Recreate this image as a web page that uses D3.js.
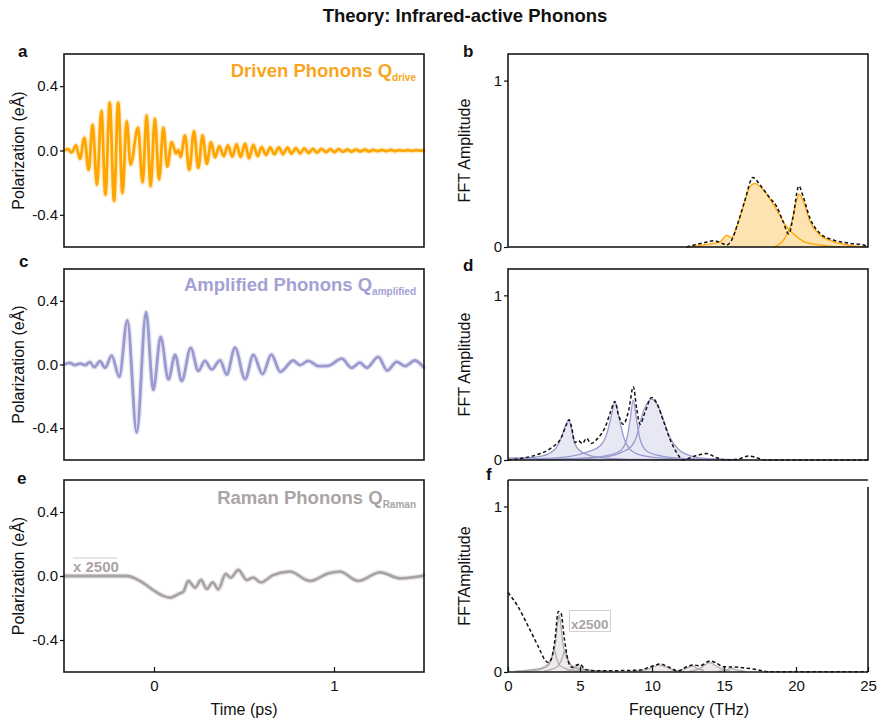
<!DOCTYPE html>
<html><head><meta charset="utf-8">
<script src="https://cdn.jsdelivr.net/npm/d3@7"></script>
<style>body{margin:0;background:#fff}svg{display:block}</style>
</head><body>
<svg id="chart" width="877" height="724"></svg>
<script>
// ---------- data ----------
const chartTitle = "Theory: Infrared-active Phonons";
const timeDomain = [-0.5, 1.5];
const freqDomain = [0, 25];
const polDomain = [-0.6, 0.6];
const fftDomain = [0, 1.16];
const polTicks = [-0.4, 0, 0.4];
const polTickLabels = ["-0.4", "0.0", "0.4"];
const fftTicks = [0, 1];
const fftTickLabels = ["0", "1"];
const timeTicks = [0, 1];
const timeTickLabels = ["0", "1"];
const freqTicks = [0, 5, 10, 15, 20, 25];
const freqTickLabels = ["0", "5", "10", "15", "20", "25"];

// panel a: driven phonons (time in ps, polarization in eÅ)
const driveT = [-0.5,-0.478,-0.458,-0.433,-0.411,-0.387,-0.363,-0.341,-0.317,-0.292,-0.270,-0.246,-0.222,-0.199,-0.175,-0.152,-0.130,-0.089,-0.063,-0.041,-0.019,0.005,0.028,0.052,0.074,0.098,0.122,0.135,0.148,0.172,0.196,0.222,0.246,0.270,0.293,0.317,0.339,0.363,0.387,0.411,0.435,0.459,0.481,0.506,0.528,0.552,0.576,0.598,0.622,0.646,0.668,0.694,0.716,0.742,0.764,0.788,0.812,0.835,0.859,0.883,0.905,0.931,0.955,0.979,1.001,1.025,1.050,1.075,1.097,1.121,1.146,1.172,1.194,1.218,1.242,1.266,1.290,1.316,1.338,1.362,1.386,1.408,1.433,1.457,1.481,1.5];
const driveP = [0,0.008,-0.012,0.031,-0.052,0.079,-0.121,0.160,-0.213,0.246,-0.275,0.298,-0.313,0.298,-0.265,0.183,-0.088,0.142,-0.198,0.219,-0.223,0.198,-0.181,0.142,-0.100,0.052,-0.017,0.004,-0.040,0.094,-0.121,0.121,-0.108,0.094,-0.083,0.052,-0.042,0.027,-0.035,0.031,-0.038,0.038,-0.040,0.042,-0.048,0.035,-0.035,0.021,-0.027,0.019,-0.023,0.019,-0.023,0.017,-0.019,0.015,-0.017,0.013,-0.015,0.010,-0.013,0.010,-0.010,0.008,-0.010,0.008,-0.008,0.006,-0.008,0.006,-0.006,0.006,-0.006,0.004,-0.004,0.004,-0.004,0.004,-0.004,0.002,-0.002,0.002,-0.002,0.002,-0.001,0];

// panel c: amplified phonons
const ampT = [-0.5,-0.467,-0.439,-0.411,-0.383,-0.356,-0.332,-0.300,-0.272,-0.235,-0.193,-0.148,-0.096,-0.044,-0.004,0.037,0.080,0.117,0.154,0.204,0.246,0.283,0.320,0.367,0.404,0.450,0.506,0.552,0.603,0.652,0.702,0.774,0.811,0.857,0.913,0.968,1.043,1.098,1.144,1.181,1.246,1.296,1.348,1.394,1.450,1.5];
const ampP = [0,0.010,-0.004,0.006,-0.004,0.015,-0.017,0.021,-0.021,0.056,-0.077,0.277,-0.427,0.329,-0.160,0.173,-0.094,0.060,-0.104,0.104,-0.040,0.023,-0.031,0.026,-0.063,0.106,-0.092,0.060,-0.060,0.062,-0.046,0.025,-0.004,0.023,-0.010,-0.008,0.0375,-0.021,0.012,-0.021,0.048,-0.038,0.017,-0.010,0.025,-0.021];

// panel e: Raman phonons (x 2500)
const ramanT = [-0.5,-0.152,-0.078,-0.004,0.052,0.089,0.144,0.163,0.191,0.228,0.261,0.293,0.326,0.357,0.398,0.426,0.469,0.515,0.552,0.593,0.663,0.756,0.867,0.969,1.033,1.135,1.256,1.367,1.5];
const ramanP = [0,0,-0.031,-0.088,-0.125,-0.135,-0.108,-0.098,-0.031,-0.073,-0.025,-0.081,-0.040,-0.083,0.0125,-0.010,0.0375,-0.025,-0.010,-0.040,0.006,0.027,-0.031,0.017,0.027,-0.031,0.023,-0.015,0.002];

// panel b: FFT of driven phonons [THz, amplitude]
const driveModeA = [[12.4,0],[13.8,0.016],[14.72,0.032],[15.19,0.070],[15.53,0.056],[15.88,0.122],[16.34,0.243],[16.81,0.364],[17.15,0.382],[17.5,0.364],[18.08,0.303],[18.66,0.223],[19.35,0.122],[20.05,0.062],[20.74,0.026],[21.9,0.010],[23.06,0]];
const driveModeB = [[18.5,0],[19.21,0.052],[19.68,0.143],[20.02,0.273],[20.23,0.317],[20.56,0.263],[20.97,0.153],[21.67,0.072],[22.59,0.032],[23.75,0.010],[24.9,0]];
const driveTotal = [[12.4,0],[13.6,0.026],[14.3,0.038],[14.86,0.022],[15.19,0.012],[15.53,0.042],[16.0,0.153],[16.46,0.283],[17.0,0.418],[17.5,0.373],[18.2,0.293],[18.66,0.243],[19.1,0.153],[19.5,0.078],[19.8,0.183],[20.2,0.367],[20.5,0.303],[20.97,0.173],[21.67,0.082],[22.59,0.042],[23.75,0.022],[24.68,0.012],[25,0.002]];

// panel d: FFT of amplified phonons
const ampMode1 = [[0,0.012],[0.95,0.012],[2.34,0.024],[3.26,0.065],[3.7,0.136],[4.0,0.21],[4.19,0.242],[4.38,0.2],[4.54,0.126],[4.88,0.065],[5.58,0.030],[6.74,0.012],[9.05,0.004],[13,0.002]];
const ampMode2 = [[0,0.006],[2.1,0.008],[4.42,0.024],[5.58,0.051],[6.39,0.085],[6.85,0.156],[7.15,0.258],[7.43,0.35],[7.71,0.258],[8.01,0.146],[8.59,0.055],[9.51,0.024],[11.36,0.008],[14,0.002]];
const ampMode3 = [[2,0.002],[4.42,0.008],[6.67,0.024],[7.78,0.055],[8.24,0.126],[8.47,0.238],[8.70,0.365],[8.94,0.238],[9.17,0.126],[9.63,0.055],[10.67,0.024],[12.5,0.008],[15,0.002]];
const ampMode4 = [[2,0.002],[4.42,0.006],[6.67,0.018],[7.85,0.045],[8.59,0.085],[8.94,0.146],[9.17,0.228],[9.51,0.319],[9.98,0.37],[10.44,0.323],[10.86,0.228],[11.25,0.136],[11.83,0.065],[12.76,0.024],[13.68,0.010],[16,0.002]];
const ampTotal = [[0,0],[0.95,0.01],[2.1,0.035],[3.03,0.075],[3.7,0.136],[4.07,0.217],[4.24,0.245],[4.42,0.197],[4.65,0.106],[4.88,0.118],[5.16,0.10],[5.46,0.132],[5.76,0.10],[6.27,0.136],[6.74,0.197],[7.15,0.299],[7.43,0.356],[7.66,0.278],[8.01,0.217],[8.4,0.309],[8.70,0.445],[8.94,0.309],[9.17,0.217],[9.51,0.289],[9.98,0.38],[10.3,0.35],[10.79,0.238],[11.25,0.126],[11.71,0.045],[12.18,0],[12.76,0.018],[13.45,0.035],[13.8,0.039],[14.49,0.014],[15.19,0],[16.11,0.008],[16.69,0.024],[17.27,0.014],[17.85,0],[25,0]];

// panel f: FFT of Raman phonons
const ramanMode1 = [[1.0,0.004],[2.2,0.015],[2.8,0.04],[3.05,0.09],[3.2,0.14],[3.35,0.09],[3.6,0.04],[4.2,0.015],[5.5,0.004]];
const ramanMode2 = [[0.5,0.005],[1.5,0.012],[2.5,0.03],[3.0,0.08],[3.3,0.18],[3.45,0.3],[3.55,0.345],[3.65,0.3],[3.8,0.18],[4.1,0.08],[4.6,0.03],[5.6,0.012],[7,0.005]];
const ramanMode3 = [[2.5,0.005],[3.4,0.03],[3.75,0.08],[3.95,0.13],[4.15,0.08],[4.5,0.03],[5.5,0.005]];
const ramanMode4 = [[4.0,0.004],[4.5,0.015],[4.75,0.035],[4.9,0.042],[5.05,0.035],[5.3,0.015],[5.8,0.004]];
const ramanMode5 = [[8.5,0.004],[9.6,0.015],[10.2,0.035],[10.5,0.042],[10.8,0.035],[11.4,0.015],[12.2,0.004]];
const ramanMode6 = [[11.6,0.004],[12.3,0.02],[12.8,0.035],[13.2,0.02],[13.6,0.008]];
const ramanMode7 = [[12.6,0.004],[13.4,0.025],[13.8,0.05],[14.0,0.058],[14.2,0.05],[14.7,0.025],[15.4,0.008]];
const ramanMode8 = [[14.6,0.004],[15.2,0.015],[15.5,0.022],[15.8,0.015],[16.5,0.004]];
const ramanTotal = [[0,0.48],[0.69,0.396],[1.41,0.275],[2.1,0.154],[2.57,0.073],[2.8,0.057],[3.03,0.083],[3.26,0.194],[3.49,0.366],[3.68,0.356],[3.91,0.204],[4.19,0.063],[4.42,0.028],[4.77,0.042],[5.0,0.048],[5.35,0.016],[6.04,0.008],[7.31,0.008],[9.17,0.012],[10.09,0.038],[10.56,0.048],[11.02,0.036],[11.83,0.006],[12.41,0.032],[12.87,0.042],[13.33,0.038],[14.03,0.067],[14.49,0.053],[14.95,0.032],[15.65,0.030],[17.04,0.018],[18.1,0.002],[25,0.002]];

// ---------- drawing ----------
const FONT = "'Liberation Sans', Arial, Helvetica, sans-serif";
const svg = d3.select("#chart").style("font-family", FONT);
const rows = [{top:54, bot:247}, {top:269, bot:460}, {top:480, bot:672}];
const xT = d3.scaleLinear().domain(timeDomain).range([64, 424]);
const xF = d3.scaleLinear().domain(freqDomain).range([508, 868]);

const COL = {
  orange: "#FFA500", orangeFill: "#FDE3B2", orangeText: "#F8A51C",
  purple: "#9A9AD0", purpleFill: "#E8E8F4", purpleText: "#A2A2D5",
  gray: "#AAA3A3", grayFill: "#EEEAEA", grayText: "#ABA4A4"
};

svg.append("text").attr("x", 465).attr("y", 22).attr("text-anchor", "middle")
  .attr("font-size", 18.5).attr("font-weight", "bold").attr("fill", "#111").text(chartTitle);

function yAxis(g, scale, ticks, labels) {
  const ax = d3.axisLeft(scale).tickValues(ticks).tickSizeInner(4).tickSizeOuter(0).tickPadding(2)
    .tickFormat((d, i) => labels[i]);
  g.call(ax);
  g.select(".domain").remove();
  g.selectAll("text").attr("font-size", 15).attr("fill", "#111").style("font-family", FONT);
  g.selectAll("line").attr("stroke", "#111").attr("stroke-width", 1.2);
}
function xAxis(g, scale, ticks, labels) {
  const ax = d3.axisBottom(scale).tickValues(ticks).tickSizeInner(-5).tickSizeOuter(0).tickPadding(8)
    .tickFormat((d, i) => labels[i]);
  g.call(ax);
  g.select(".domain").remove();
  g.selectAll("text").attr("font-size", 15).attr("fill", "#111").style("font-family", FONT);
  g.selectAll("line").attr("stroke", "#111").attr("stroke-width", 1.2);
}
function frame(x0, x1, r) {
  svg.append("rect").attr("x", x0).attr("y", r.top).attr("width", x1 - x0).attr("height", r.bot - r.top)
    .attr("fill", "none").attr("stroke", "#1a1a1a").attr("stroke-width", 1.6);
}
function letter(t, x, y) {
  svg.append("text").attr("x", x).attr("y", y).attr("font-size", 17).attr("font-weight", "bold")
    .attr("fill", "#111").text(t);
}
function yTitle(t, x, r) {
  const cy = (r.top + r.bot) / 2;
  svg.append("text").attr("transform", `translate(${x},${cy}) rotate(-90)`).attr("text-anchor", "middle")
    .attr("font-size", 16).attr("fill", "#111").text(t);
}
function panelTitle(main, sub, color, y) {
  const t = svg.append("text").attr("x", 416).attr("y", y).attr("text-anchor", "end")
    .attr("font-size", 18.5).attr("font-weight", "bold").attr("fill", color);
  t.append("tspan").text(main);
  t.append("tspan").attr("font-size", 10).attr("dy", 4).text(sub);
}

function timePanel(r, T, P, color) {
  const y = d3.scaleLinear().domain(polDomain).range([r.bot, r.top]);
  const data = T.map((t, i) => [t, P[i]]);
  const line = d3.line().x(d => xT(d[0])).y(d => y(d[1])).curve(d3.curveMonotoneX);
  svg.append("path").attr("d", line(data)).attr("fill", "none").attr("stroke", color)
    .attr("stroke-width", 5.5).attr("stroke-opacity", 0.22).attr("stroke-linejoin", "round");
  svg.append("path").attr("d", line(data)).attr("fill", "none").attr("stroke", color)
    .attr("stroke-width", 2.8).attr("stroke-linejoin", "round").attr("stroke-linecap", "round");
  frame(64, 424, r);
  yAxis(svg.append("g").attr("transform", "translate(64,0)"), y, polTicks, polTickLabels);
  yTitle("Polarization (eÅ)", 24, r);
  return y;
}

function freqPanel(r, modes, total, stroke, fill, drawFrame) {
  const y = d3.scaleLinear().domain(fftDomain).range([r.bot, r.top]);
  const area = d3.area().x(d => xF(d[0])).y0(y(0)).y1(d => y(d[1])).curve(d3.curveMonotoneX);
  const line = d3.line().x(d => xF(d[0])).y(d => y(d[1])).curve(d3.curveMonotoneX);
  modes.forEach(m => svg.append("path").attr("d", area(m)).attr("fill", fill).attr("stroke", "none"));
  modes.forEach(m => svg.append("path").attr("d", line(m)).attr("fill", "none").attr("stroke", stroke).attr("stroke-width", 1.3));
  svg.append("path").attr("d", line(total)).attr("fill", "none").attr("stroke", "#111")
    .attr("stroke-width", 1.5).attr("stroke-dasharray", "3.5,2.5");
  if (drawFrame) frame(508, 868, r);
  yAxis(svg.append("g").attr("transform", "translate(508,0)"), y, fftTicks, fftTickLabels);
  return y;
}

// Row 1
timePanel(rows[0], driveT, driveP, COL.orange);
panelTitle("Driven Phonons Q", "drive", COL.orangeText, 77);
letter("a", 18, 57);
freqPanel(rows[0], [driveModeA, driveModeB], driveTotal, COL.orange, COL.orangeFill, true);
yTitle("FFT Amplitude", 470, rows[0]);
letter("b", 463, 57);

// Row 2
timePanel(rows[1], ampT, ampP, COL.purple);
panelTitle("Amplified Phonons Q", "amplified", COL.purpleText, 291);
letter("c", 19, 267);
freqPanel(rows[1], [ampMode1, ampMode2, ampMode3, ampMode4], ampTotal, COL.purple, COL.purpleFill, true);
yTitle("FFT Amplitude", 470, rows[1]);
letter("d", 463, 271);

// Row 3
timePanel(rows[2], ramanT, ramanP, COL.gray);
panelTitle("Raman Phonons Q", "Raman", COL.grayText, 504);
letter("e", 17, 484);
xAxis(svg.append("g").attr("transform", `translate(0,${rows[2].bot})`), xT, timeTicks, timeTickLabels);
svg.append("text").attr("x", 244).attr("y", 715).attr("text-anchor", "middle").attr("font-size", 16).attr("fill", "#111").text("Time (ps)");
svg.append("line").attr("x1", 73).attr("x2", 117).attr("y1", 558).attr("y2", 558).attr("stroke", "#cfcaca").attr("stroke-width", 1);
svg.append("text").attr("x", 73).attr("y", 572).attr("font-size", 15).attr("font-weight", "bold").attr("fill", COL.grayText).text("x 2500");

const rf = rows[2];
freqPanel(rf, [ramanMode1, ramanMode2, ramanMode3, ramanMode4, ramanMode5, ramanMode6, ramanMode7, ramanMode8], ramanTotal, "#B3ACAC", COL.grayFill, false);
// frame of panel f (right border starts slightly below top)
const fr = svg.append("g").attr("stroke", "#1a1a1a").attr("stroke-width", 1.6);
fr.append("line").attr("x1", 508).attr("x2", 868).attr("y1", rf.top).attr("y2", rf.top);
fr.append("line").attr("x1", 508).attr("x2", 868).attr("y1", rf.bot).attr("y2", rf.bot);
fr.append("line").attr("x1", 508).attr("x2", 508).attr("y1", rf.top).attr("y2", rf.bot);
fr.append("line").attr("x1", 868).attr("x2", 868).attr("y1", rf.top + 7).attr("y2", rf.bot);
xAxis(svg.append("g").attr("transform", `translate(0,${rf.bot})`), xF, freqTicks, freqTickLabels);
yTitle("FFTAmplitude", 470, rf);
letter("f", 486, 480);
svg.append("rect").attr("x", 569.5).attr("y", 610.5).attr("width", 41).attr("height", 21)
  .attr("fill", "none").attr("stroke", "#d3cfcf").attr("stroke-width", 1);
svg.append("text").attr("x", 571).attr("y", 629).attr("font-size", 13.5).attr("font-weight", "bold").attr("fill", COL.grayText).text("x2500");
svg.append("text").attr("x", 689).attr("y", 715).attr("text-anchor", "middle").attr("font-size", 16).attr("fill", "#111").text("Frequency (THz)");
</script>
</body></html>
